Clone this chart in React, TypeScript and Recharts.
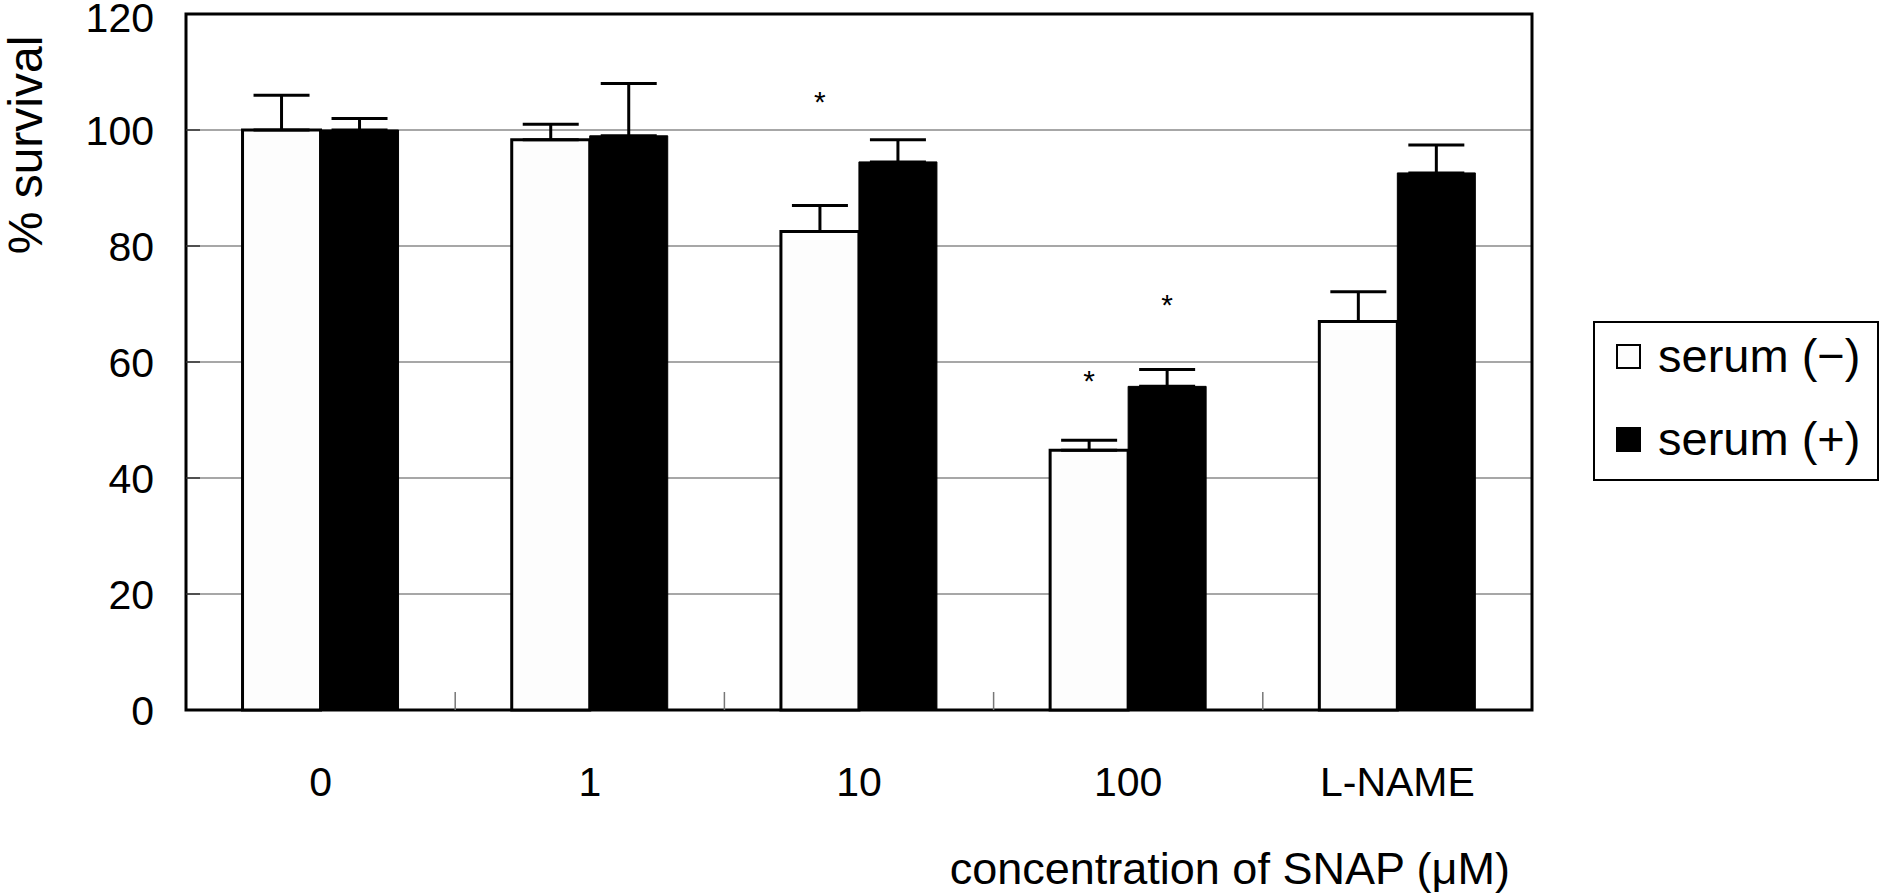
import React from 'react';
import { BarChart, Bar, XAxis, YAxis, CartesianGrid, ErrorBar, ReferenceArea, Legend, LabelList } from 'recharts';

const FONT = '"Liberation Sans", Arial, Helvetica, sans-serif';

// SNAP concentration (uM) groups
const categories = ['0', '1', '10', '100', 'L-NAME'];
const seriesNames = ['serum (\u2212)', 'serum (+)'];
const seriesFills = ['#fdfdfd', '#000'];
const serumMinus = [100, 98.3, 82.5, 44.8, 67];
const serumPlus = [100, 99, 94.5, 55.8, 92.6];
// upper error (SD)
const errMinus = [6, 2.7, 4.5, 1.7, 5.1];
const errPlus = [2, 9, 3.8, 2.9, 4.8];
// where the significance asterisks sit (y value), null = none
const starMinus = [null, null, 106, 58, null];
const starPlus = [null, null, null, 71, null];
const yTicks = [0, 20, 40, 60, 80, 100, 120];

const data = categories.map((name, i) => ({
  name,
  minus: serumMinus[i],
  plus: serumPlus[i],
  errMinus: [0, errMinus[i]],
  errPlus: [0, errPlus[i]],
  starMinus: starMinus[i],
  starPlus: starPlus[i],
}));

const YTick = (props: any) => {
  const { x, y, payload } = props;
  const v = payload.value;
  return (
    <g>
      {v > 0 && v < 120 && <line x1={x} x2={x + 14} y1={y} y2={y} stroke="#333" strokeWidth={1.5} />}
      <text x={x - 32} y={y + (v === 120 ? 18 : 15)} textAnchor="end" fontSize={41} fontFamily={FONT} fill="#000">
        {v}
      </text>
    </g>
  );
};

const XTick = (props: any) => {
  const { x, y, payload, index } = props;
  const half = payload && typeof payload.offset === 'number' ? payload.offset : 0;
  return (
    <g>
      {index < categories.length - 1 && half > 0 && (
        <line x1={x + half} x2={x + half} y1={y} y2={y - 18} stroke="#777" strokeWidth={1.5} />
      )}
      <text x={x} y={y + 86} textAnchor="middle" fontSize={41} fontFamily={FONT} fill="#000">
        {payload.value}
      </text>
    </g>
  );
};

const yLabel = (props: any) => {
  const vb = props.viewBox || { x: 0, y: 0 };
  const cx = vb.x + 25;
  const cy = vb.y + 131;
  return (
    <text x={cx} y={cy} transform={`rotate(-90 ${cx} ${cy})`} textAnchor="middle" dominantBaseline="central"
      fontSize={48} fontFamily={FONT} fill="#000">
      % survival
    </text>
  );
};

const xLabel = (props: any) => {
  const vb = props.viewBox || { x: 0, y: 0, width: 0 };
  return (
    <text x={vb.x + vb.width - 22} y={vb.y + 174} textAnchor="end" fontSize={45} fontFamily={FONT} fill="#000">
      concentration of SNAP (&#956;M)
    </text>
  );
};

const makeStar = (key: 'minus' | 'plus') => (props: any) => {
  const { x, y, width, height, value, index } = props;
  if (value == null) return null;
  const barVal = data[index][key];
  const pxPerUnit = height / barVal;
  const cy = y + height - value * pxPerUnit;
  return (
    <text x={x + width / 2} y={cy + 17} textAnchor="middle" fontSize={30} fontFamily={FONT} fill="#000">
      *
    </text>
  );
};

const renderLegend = () => (
  <div style={{ position: 'relative', boxSizing: 'border-box', width: 286, height: 160, border: '2px solid #000', background: '#fff', fontFamily: FONT }}>
    {seriesNames.map((name, i) => (
      <div key={name} style={{ position: 'absolute', left: 21, top: 3 + i * 83, height: 60, display: 'flex', alignItems: 'center' }}>
        <span style={{ display: 'inline-block', boxSizing: 'border-box', width: 25, height: 25, border: '2px solid #000', background: seriesFills[i], marginRight: 17 }} />
        <span style={{ fontSize: 47, lineHeight: '60px', color: '#000', whiteSpace: 'nowrap' }}>{name}</span>
      </div>
    ))}
  </div>
);

export default function App() {
  return (
    <div style={{ position: 'absolute', left: 0, top: 0, background: '#fff' }}>
      <BarChart width={1882} height={896} data={data} margin={{ top: 14, right: 64, bottom: 0, left: 0 }}
        barCategoryGap="21%" barGap={0}>
        <CartesianGrid vertical={false} stroke="#8a8a8a" strokeWidth={1.5} />
        <XAxis dataKey="name" height={186} interval={0} tickSize={0} tickMargin={0} tickLine={false}
          axisLine={false} tick={<XTick />} label={{ content: xLabel }} />
        <YAxis width={186} domain={[0, 120]} ticks={yTicks} interval={0} tickSize={0} tickMargin={0}
          tickLine={false} axisLine={false} tick={<YTick />} label={{ content: yLabel }} />
        <Legend verticalAlign="middle" align="right" layout="horizontal" content={renderLegend}
          wrapperStyle={{ position: 'absolute', left: 1593, top: 321, width: 286, height: 160 }} />
        <Bar dataKey="minus" name={seriesNames[0]} fill={seriesFills[0]} stroke="#000" strokeWidth={3} isAnimationActive={false}>
          <ErrorBar dataKey="errMinus" width={28} stroke="#000" strokeWidth={3} direction="y" />
          <LabelList dataKey="starMinus" content={makeStar('minus')} />
        </Bar>
        <Bar dataKey="plus" name={seriesNames[1]} fill={seriesFills[1]} stroke="#000" strokeWidth={1} isAnimationActive={false}>
          <ErrorBar dataKey="errPlus" width={28} stroke="#000" strokeWidth={3} direction="y" />
          <LabelList dataKey="starPlus" content={makeStar('plus')} />
        </Bar>
        <ReferenceArea x1="0" x2="L-NAME" y1={0} y2={120} fill="none" stroke="#000" strokeWidth={3} ifOverflow="visible" />
      </BarChart>
    </div>
  );
}
